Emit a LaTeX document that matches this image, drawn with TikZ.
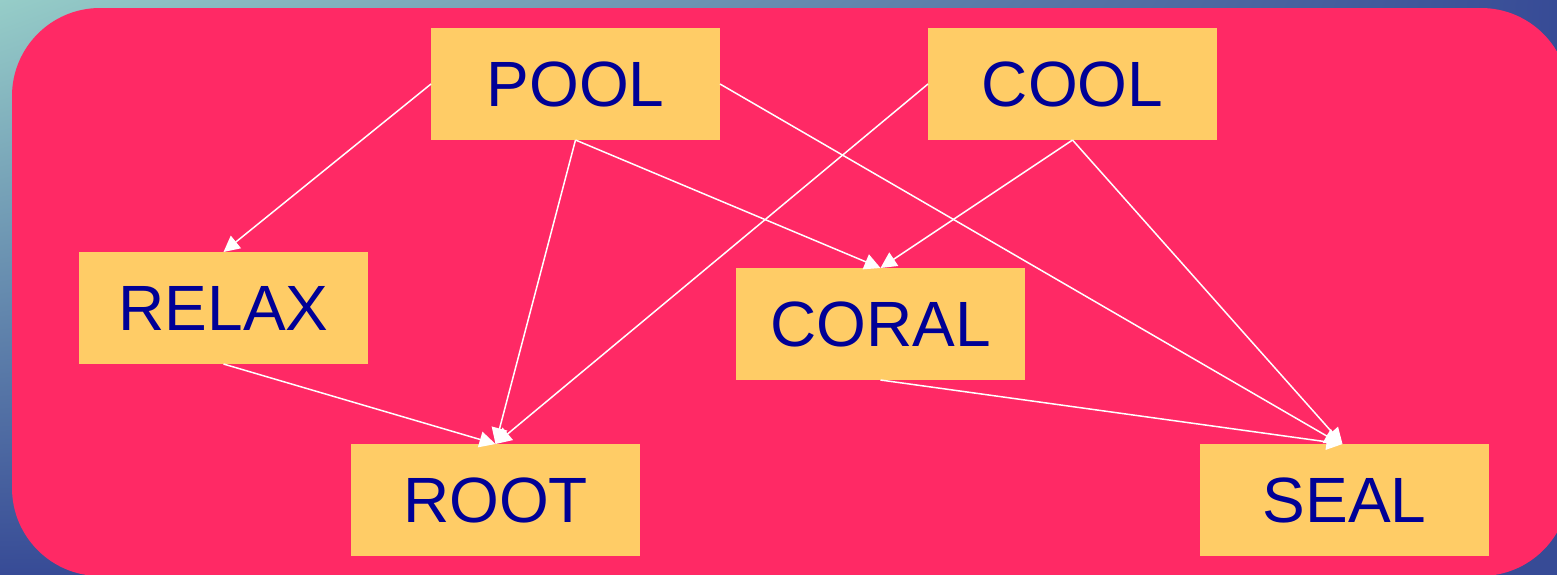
\documentclass[tikz,border=0pt]{standalone}
\usepackage{fontspec}
\setmainfont{Liberation Sans}
\usepackage{xcolor}
\usepackage{tikz}
\usetikzlibrary{arrows.meta}
\usetikzlibrary{positioning}
\usetikzlibrary{shadings}

\definecolor{panelpink}{RGB}{255,41,101}
\definecolor{boxyellow}{RGB}{255,204,102}
\definecolor{wordblue}{RGB}{0,0,150}
\definecolor{seateal}{RGB}{150,205,200}
\definecolor{seablue}{RGB}{55,75,150}

\begin{document}
\begin{tikzpicture}[
    x=0.5pt,y=-0.5pt, % one unit = one pixel of the sketch, y going down
    outer sep=0pt,
    wordbox/.style={rectangle,fill=boxyellow,text=wordblue,minimum width=144.5pt,minimum height=56pt,
                    font=\fontsize{32}{38}\selectfont},
    link/.style={-{Triangle[width=8pt,length=8pt]},white,line width=0.75pt},
    ]
    \useasboundingbox (0,0) rectangle (1557,574);
    \shade [upper left=seateal,upper right=seablue,lower left=seablue,lower right=seablue] (0,0) rectangle (1557,574);
    \fill [panelpink,rounded corners=44pt] (12,8) rectangle (1569,576);

    \node (pool)  at (575.5,84)   [wordbox] {POOL};
    \node (cool)  at (1072.5,84)  [wordbox] {COOL};
    \node (relax) at (223.5,308)  [wordbox] {RELAX};
    \node (coral) at (880.5,324)  [wordbox] {CORAL};
    \node (root)  at (495.5,500)  [wordbox] {ROOT};
    \node (seal)  at (1344.5,500) [wordbox] {SEAL};

    \draw [link] (pool.west)  -- (relax.north);
    \draw [link] (pool.south) -- (root.north);
    \draw [link] (pool.south) -- (coral.north);
    \draw [link] (pool.east)  -- ([xshift=-2pt]seal.north);
    \draw [link] (cool.west)  -- (root.north);
    \draw [link] (cool.south) -- (coral.north);
    \draw [link] (cool.south) -- ([xshift=-1pt]seal.north);
    \draw [link] (relax.south) -- (root.north);
    \draw [link] (coral.south) -- ([xshift=-1pt]seal.north);
\end{tikzpicture}
\end{document}
